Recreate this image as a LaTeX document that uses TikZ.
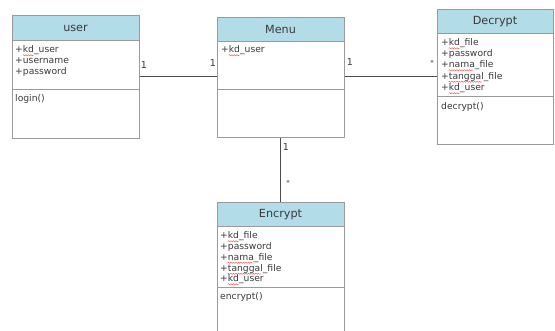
\documentclass[tikz,border=0pt]{standalone}
\usepackage{fontspec}
\setmainfont{DejaVu Sans}
\usetikzlibrary{decorations.pathmorphing}
\definecolor{hdr}{HTML}{B2DCE8}
\definecolor{brd}{HTML}{9A9A9A}
\definecolor{txt}{HTML}{3A3A3A}
\tikzset{
  classbox/.style={draw=brd, line width=0.9pt, anchor=north west, inner sep=0pt, fill=white},
  hdrbox/.style={draw=brd, line width=0.9pt, fill=hdr, anchor=north west, inner sep=0pt},
  title/.style={font=\fontsize{11.2}{13}\selectfont, text=txt},
  attr/.style={font=\fontsize{9.2}{11}\selectfont, text=txt, anchor=base west, inner sep=0pt},
  mult/.style={font=\fontsize{9.5}{10}\selectfont, text=txt, inner sep=0pt},
  star/.style={font=\fontsize{7}{8}\selectfont, text=txt, inner sep=0pt},
  sep/.style={draw=brd, line width=0.9pt},
  conn/.style={draw=black!70, line width=1pt},
  squig/.style={draw=red!75, line width=0.4pt, decorate, decoration={snake, amplitude=0.6pt, segment length=2.5pt}}
}
\newcommand{\sqg}[3]{\draw[squig] ([xshift=7.7pt,yshift=-2.3pt]#1.base west) -- ++(#2,0);}
\begin{document}
\begin{tikzpicture}[x=1pt,y=-1pt]
\useasboundingbox[fill=white] (0,0) rectangle (555,331);
\begin{scope}
\clip (0,0) rectangle (555,331);
% user
\node[classbox, minimum width=127pt, minimum height=123pt] (user) at (12,15) {};
\node[hdrbox, minimum width=127pt, minimum height=25pt] (userh) at (12,15) {};
\node[title] (usert) at (75.5,28) {user};
\draw[sep] (12,89) -- (139,89);
\node[attr] (ua1) at (15,53) {+kd\_user};
\node[attr] (ua2) at (15,64) {+username};
\node[attr] (ua3) at (15,74.5) {+password};
\node[attr] (um1) at (15,102) {login()};
% Menu
\node[classbox, minimum width=127pt, minimum height=120pt] (menu) at (217,17) {};
\node[hdrbox, minimum width=127pt, minimum height=24pt] (menuh) at (217,17) {};
\node[title] (menut) at (280.5,29.5) {Menu};
\draw[sep] (217,89) -- (344,89);
\node[attr] (ma1) at (221,53) {+kd\_user};
% Decrypt
\node[classbox, minimum width=116pt, minimum height=135pt] (dec) at (437,9) {};
\node[hdrbox, minimum width=116pt, minimum height=24pt] (dech) at (437,9) {};
\node[title] (dect) at (495,22) {Decrypt};
\draw[sep] (437,96) -- (553,96);
\node[attr] (da1) at (441,46) {+kd\_file};
\node[attr] (da2) at (441,57) {+password};
\node[attr] (da3) at (441,68) {+nama\_file};
\node[attr] (da4) at (441,79.5) {+tanggal\_file};
\node[attr] (da5) at (441,91) {+kd\_user};
\node[attr] (dm1) at (441,110) {decrypt()};
% Encrypt
\node[classbox, minimum width=127pt, minimum height=135pt] (enc) at (217,202) {};
\node[hdrbox, minimum width=127pt, minimum height=24pt] (ench) at (217,202) {};
\node[title] (enct) at (280.5,214.5) {Encrypt};
\draw[sep] (217,287) -- (344,287);
\node[attr] (ea1) at (220,239) {+kd\_file};
\node[attr] (ea2) at (220,250) {+password};
\node[attr] (ea3) at (220,260.5) {+nama\_file};
\node[attr] (ea4) at (220,271.5) {+tanggal\_file};
\node[attr] (ea5) at (220,282) {+kd\_user};
\node[attr] (em1) at (220,300) {encrypt()};
% spellcheck squiggles
\sqg{ua1}{11pt}{}
\sqg{ma1}{11pt}{}
\sqg{da1}{11pt}{}
\sqg{da3}{25pt}{}
\sqg{da4}{33pt}{}
\sqg{da5}{11pt}{}
\sqg{ea1}{11pt}{}
\sqg{ea3}{25pt}{}
\sqg{ea4}{33pt}{}
\sqg{ea5}{11pt}{}
\end{scope}
% connectors
\draw[conn] (user.east |- 0,77) -- (menu.west |- 0,77);
\draw[conn] (menu.east |- 0,77) -- (dec.west |- 0,77);
\draw[conn] (menu.south) -- (enc.north);
% multiplicities
\node[mult] (m1) at (144,65) {1};
\node[mult] (m2) at (213,63) {1};
\node[mult] (m3) at (350,62) {1};
\node[star] (m4) at (432,63) {*};
\node[mult] (m5) at (286,147) {1};
\node[star] (m6) at (288,183) {*};
\end{tikzpicture}
\end{document}
